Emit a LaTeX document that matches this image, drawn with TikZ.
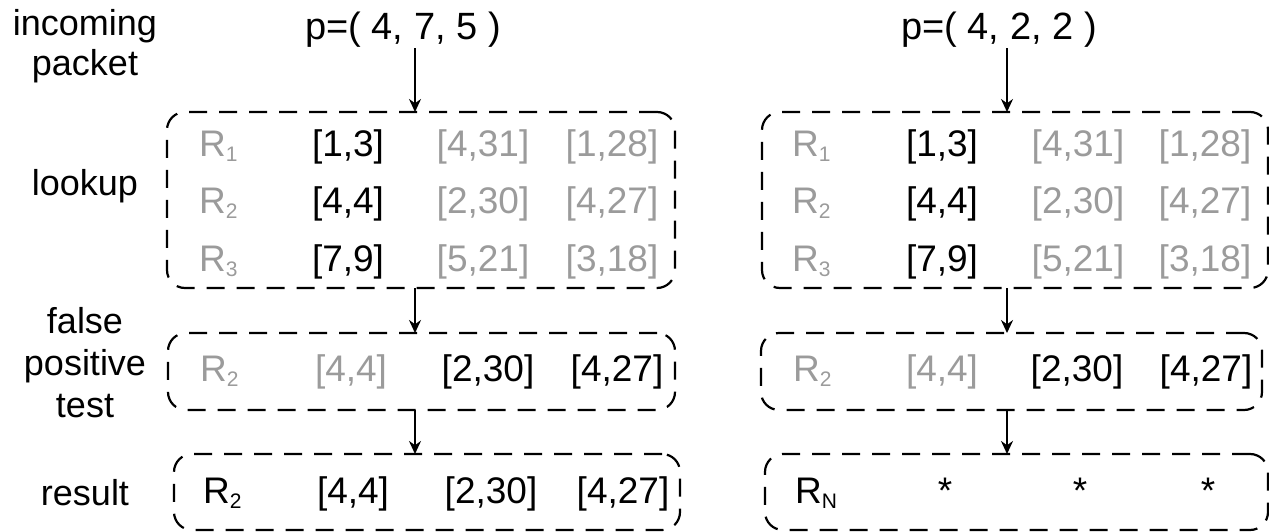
\documentclass[tikz,border=0pt]{standalone}
\usepackage{fontspec}
\setmainfont{Liberation Sans}
\usetikzlibrary{arrows.meta}
\definecolor{lightgr}{RGB}{155,155,155}
\newcommand{\Rsub}[1]{R\raisebox{-5pt}{\fontsize{21}{21}\selectfont #1}}
\begin{document}
\begin{tikzpicture}[x=1pt,y=-1pt,
  box/.style={draw, line width=2.2pt, dash pattern=on 18pt off 12pt, rounded corners=18pt, inner sep=0pt, outer sep=0pt},
  arr/.style={line width=2pt, -{Stealth[length=13pt,width=12pt]}},
  lbl/.style={anchor=base, inner sep=0pt, font=\fontsize{36}{42}\selectfont},
  val/.style={anchor=base, inner sep=0pt, font=\fontsize{37}{44}\selectfont},
  pkt/.style={anchor=base, inner sep=0pt, font=\fontsize{38}{44}\selectfont},
  rw/.style={anchor=base west, inner sep=0pt, font=\fontsize{37}{44}\selectfont},
  dim/.style={text=lightgr}]
\useasboundingbox (0,0) rectangle (1269,532);

% left labels
\node[lbl] (l1a) at (85,36) {incoming};
\node[lbl] (l1b) at (85,76) {packet};
\node[lbl] (l2) at (85,195) {lookup};
\node[lbl] (l3a) at (85,333) {false};
\node[lbl] (l3b) at (85,375) {positive};
\node[lbl] (l3c) at (85,417) {test};
\node[lbl] (l4) at (85,505) {result};

% packets
\node[pkt] (p1) at (403,40) {p=( 4, 7, 5 )};
\node[pkt] (p2) at (999,40) {p=( 4, 2, 2 )};

% boxes
\node[box, minimum width=508pt, minimum height=176pt] (lk1) at (421,200) {};
\node[box, minimum width=507pt, minimum height=77pt] (fp1) at (421.5,371.5) {};
\node[box, minimum width=506pt, minimum height=76pt] (rs1) at (427,492) {};
\node[box, minimum width=506pt, minimum height=176pt] (lk2) at (1015,200) {};
\node[box, minimum width=501pt, minimum height=77pt] (fp2) at (1011.5,371.5) {};
\node[box, minimum width=503pt, minimum height=76pt] (rs2) at (1016.5,492) {};

% arrows
\coordinate (ax1) at (415,0);
\coordinate (ax2) at (1007,0);
\draw[arr] (p1.south -| ax1) -- (lk1.north -| ax1);
\draw[arr] (lk1.south -| ax1) -- (fp1.north -| ax1);
\draw[arr] (fp1.south -| ax1) -- (rs1.north -| ax1);
\draw[arr] (p2.south -| ax2) -- (lk2.north -| ax2);
\draw[arr] (lk2.south -| ax2) -- (fp2.north -| ax2);
\draw[arr] (fp2.south -| ax2) -- (rs2.north -| ax2);

% left lookup table
\node[rw,dim] (a11) at (199,157) {\Rsub{1}};
\node[val] (a12) at (348,157) {[1,3]};
\node[val,dim] (a13) at (483,157) {[4,31]};
\node[val,dim] (a14) at (612,157) {[1,28]};
\node[rw,dim] (a21) at (199,213) {\Rsub{2}};
\node[val] (a22) at (348,213) {[4,4]};
\node[val,dim] (a23) at (483,213) {[2,30]};
\node[val,dim] (a24) at (612,213) {[4,27]};
\node[rw,dim] (a31) at (199,271) {\Rsub{3}};
\node[val] (a32) at (348,271) {[7,9]};
\node[val,dim] (a33) at (483,271) {[5,21]};
\node[val,dim] (a34) at (612,271) {[3,18]};

% right lookup table
\node[rw,dim] (b11) at (792,157) {\Rsub{1}};
\node[val] (b12) at (942,157) {[1,3]};
\node[val,dim] (b13) at (1078,157) {[4,31]};
\node[val,dim] (b14) at (1205,157) {[1,28]};
\node[rw,dim] (b21) at (792,213) {\Rsub{2}};
\node[val] (b22) at (942,213) {[4,4]};
\node[val,dim] (b23) at (1078,213) {[2,30]};
\node[val,dim] (b24) at (1205,213) {[4,27]};
\node[rw,dim] (b31) at (792,271) {\Rsub{3}};
\node[val] (b32) at (942,271) {[7,9]};
\node[val,dim] (b33) at (1078,271) {[5,21]};
\node[val,dim] (b34) at (1205,271) {[3,18]};

% false positive test
\node[rw,dim] (c1) at (200,381) {\Rsub{2}};
\node[val,dim] (c2) at (351,381) {[4,4]};
\node[val] (c3) at (488,381) {[2,30]};
\node[val] (c4) at (617,381) {[4,27]};
\node[rw,dim] (d1) at (793,381) {\Rsub{2}};
\node[val,dim] (d2) at (942,381) {[4,4]};
\node[val] (d3) at (1077,381) {[2,30]};
\node[val] (d4) at (1206,381) {[4,27]};

% results
\node[rw] (e1) at (203,503) {\Rsub{2}};
\node[val] (e2) at (353,503) {[4,4]};
\node[val] (e3) at (491,503) {[2,30]};
\node[val] (e4) at (623,503) {[4,27]};
\node[rw] (f1) at (795,503) {\Rsub{N}};
\node[val] (f2) at (945,503) {*};
\node[val] (f3) at (1080,503) {*};
\node[val] (f4) at (1208,503) {*};
\end{tikzpicture}
\end{document}
